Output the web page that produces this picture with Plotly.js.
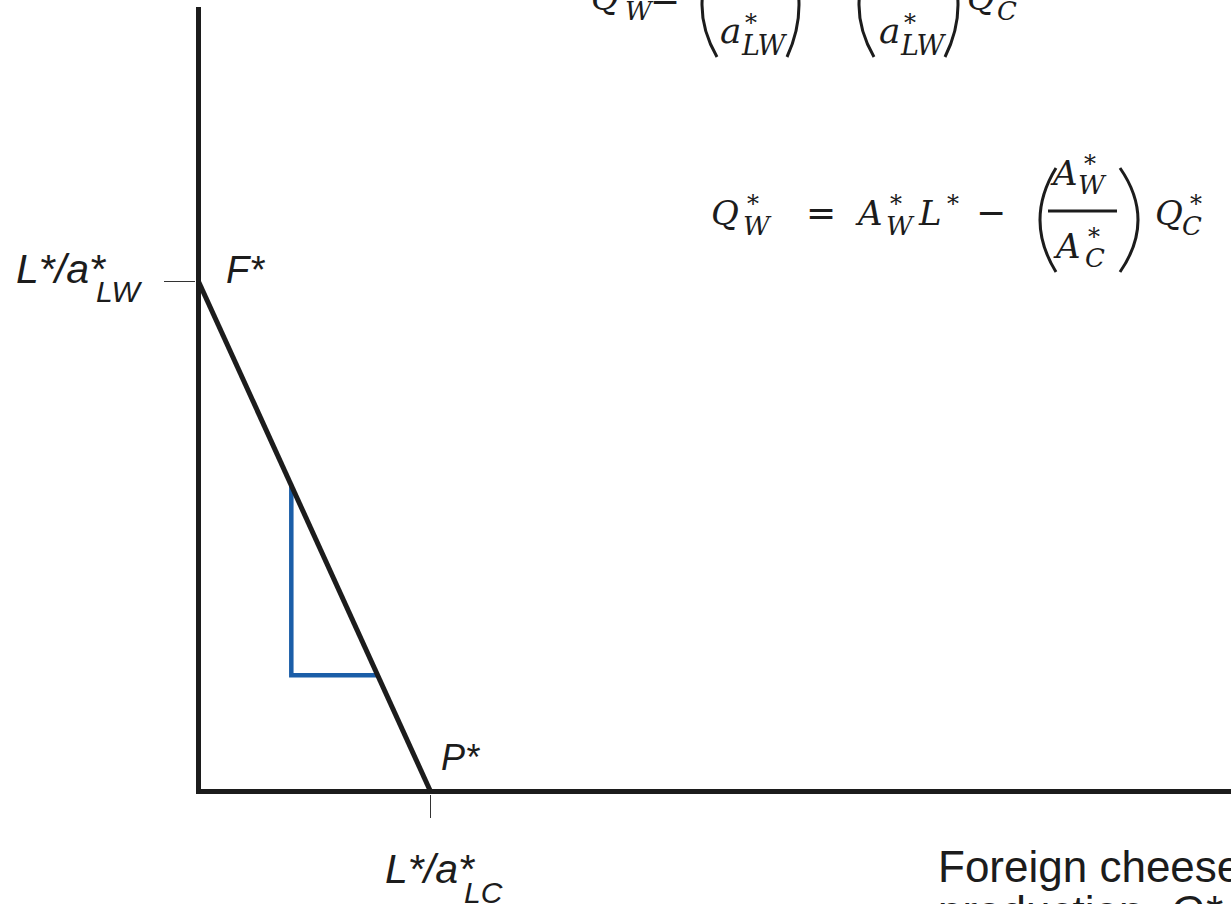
<!DOCTYPE html>
<html><head><meta charset="utf-8">
<script src="https://cdn.plot.ly/plotly-3.0.1.min.js"></script>
<style>html,body{margin:0;padding:0;background:#fff;overflow:hidden}#chart{width:1231px;height:904px}</style>
</head><body><div id="chart"></div>
<script>
// ---- data ----
const cheeseMax = 2;            // L*/a*_LC  (foreign cheese intercept)
const wineMax = 5;              // L*/a*_LW  (foreign wine intercept)
const ppfCheese = [0, cheeseMax];
const ppfWine = [wineMax, 0];
const slopeCheese = [0.8, 0.8, 1.544];
const slopeWine = [3.0, 1.14, 1.14];
const xTickLabel = ['L*/a*', 'LC'];
const yTickLabel = ['L*/a*', 'LW'];
const pointLabels = ['F*', 'P*'];
const xTitle = ['Foreign cheese', 'production,'];

// ---- layout helpers ----
const W = 1231, H = 904;
const M = {l: 196, r: 0, t: 7, b: 110};
const XR = [-0.0216, 8.9], YR = [-0.0245, 7.69];
const pw = W - M.l - M.r, ph = H - M.t - M.b;
const PX = px => (px - M.l) / pw;
const PY = py => (H - M.b - py) / ph;
const dataX = v => M.l + (v - XR[0]) / (XR[1] - XR[0]) * pw;   // data -> pixel
const dataY = v => H - M.b - (v - YR[0]) / (YR[1] - YR[0]) * ph;
const INK = '#1c1c1c';
const SERIF = 'DejaVu Serif', SANS = 'Liberation Sans', DJS = 'DejaVu Sans';
const DESC = {'DejaVu Serif': 0.236, 'Liberation Sans': 0.212, 'DejaVu Sans': 0.236};

// text placed by left x and baseline y (pixels)
function T(x, bl, text, size, fam, it) {
  fam = fam || SERIF;
  return {
    xref: 'paper', yref: 'paper', x: PX(x), y: PY(bl),
    yshift: -DESC[fam] * size,
    xanchor: 'left', yanchor: 'bottom', showarrow: false,
    borderpad: 0, borderwidth: 0,
    text: it ? '<i>' + text + '</i>' : text,
    font: {family: fam, size: size, color: INK}
  };
}

const anns = [];
const shapes = [];
function bar(x0, x1, y) {
  shapes.push({type: 'line', xref: 'paper', yref: 'paper', x0: PX(x0), x1: PX(x1), y0: PY(y), y1: PY(y),
    line: {color: INK, width: 3}});
}
function paren(xEnd, xMid, yTop, yBot) {
  const ctrl = 2 * xMid - xEnd;
  const yc = (yTop + yBot) / 2;
  shapes.push({type: 'path', xref: 'paper', yref: 'paper',
    path: `M ${PX(xEnd)},${PY(yTop)} Q ${PX(ctrl)},${PY(yc)} ${PX(xEnd)},${PY(yBot)}`,
    line: {color: INK, width: 3}});
}
const MS = 34, SUP = 24, SUB = 26;

// ---- equation 2: Q*_W = A*_W L* − (A*_W / A*_C) Q*_C ----
anns.push(T(711, 225, 'Q', MS, SERIF, true), T(747, 212, '*', SUP), T(743, 235, 'W', SUB, SERIF, true));
anns.push(T(806, 225, '=', 36, DJS));
anns.push(T(855, 225, 'A', MS, SERIF, true), T(890, 212, '*', SUP), T(886, 235, 'W', SUB, SERIF, true));
anns.push(T(918, 225, 'L', MS, SERIF, true), T(947, 212, '*', SUP));
anns.push(T(976, 225, '−', 36, DJS));
paren(1056, 1040, 168, 272);
anns.push(T(1050, 185, 'A', MS, SERIF, true), T(1084, 172, '*', SUP), T(1078, 194, 'W', SUB, SERIF, true));
bar(1048, 1117, 211);
anns.push(T(1053, 258, 'A', MS, SERIF, true), T(1088, 245, '*', SUP), T(1085, 267, 'C', SUB, SERIF, true));
paren(1120, 1138, 168, 272);
anns.push(T(1155, 225, 'Q', MS, SERIF, true), T(1190, 212, '*', SUP), T(1182, 235, 'C', SUB, SERIF, true));

// ---- equation 1 (cut at top): Q*_W = (L*/a*_LW) − (a*_LC/a*_LW) Q*_C ----
anns.push(T(591, 10, 'Q', MS, SERIF, true), T(628, -3, '*', SUP), T(625, 20, 'W', SUB, SERIF, true));
anns.push(T(650, 10, '=', 36, DJS));
paren(717, 702, -47, 57);
anns.push(T(736, -30, 'L', MS, SERIF, true), T(762, -43, '*', SUP));
bar(720, 786, -4);
anns.push(T(720, 43, 'a', 36, SERIF, true), T(745, 31, '*', SUP), T(741, 55, 'LW', 27, SERIF, true));
paren(787, 799, -47, 57);
anns.push(T(811, 10, '−', 36, DJS));
paren(874, 859, -47, 57);
anns.push(T(882, -30, 'a', 36, SERIF, true), T(906, -42, '*', SUP), T(902, -18, 'LC', 27, SERIF, true));
bar(877, 943, -4);
anns.push(T(879, 43, 'a', 36, SERIF, true), T(904, 31, '*', SUP), T(900, 55, 'LW', 27, SERIF, true));
paren(945, 958, -47, 57);
anns.push(T(967, 10, 'Q', MS, SERIF, true), T(1002, -3, '*', SUP), T(997, 20, 'C', SUB, SERIF, true));

// ---- axis labels, positioned from the data scale ----
const x0 = dataX(0), xP = dataX(cheeseMax), yF = dataY(wineMax), yP = dataY(0);
anns.push(T(x0 - 183, yF + 1.5, yTickLabel[0], 41, SANS, true));
anns.push(T(x0 - 103, yF + 20.5, yTickLabel[1], 30, SANS, true));
anns.push(T(x0 + 27, yF + 1.5, pointLabels[0], 38, SANS, true));
anns.push(T(xP + 10, yP - 21.5, pointLabels[1], 36, SANS, true));
anns.push(T(xP - 45.5, 883, xTickLabel[0], 41, SANS, true));
anns.push(T(xP + 33, 903, xTickLabel[1], 30, SANS, true));
anns.push(T(938, 882, xTitle[0], 44, SANS));
anns.push(T(938, 927, xTitle[1], 44, SANS));
anns.push(T(1170, 927, 'Q*', 44, SANS, true));
anns.push(T(1209, 943, 'C', 32, SANS, true));

const traces = [
  {type: 'scatter', mode: 'lines', x: slopeCheese, y: slopeWine,
   line: {color: '#1b5ea8', width: 4.5}, hoverinfo: 'skip', showlegend: false},
  {type: 'scatter', mode: 'lines', x: ppfCheese, y: ppfWine,
   line: {color: INK, width: 5}, hoverinfo: 'skip', showlegend: false}
];

const layout = {
  width: W, height: H, margin: M,
  paper_bgcolor: '#fff', plot_bgcolor: 'rgba(0,0,0,0)',
  showlegend: false,
  xaxis: {range: XR, showgrid: false, showline: false,
          zeroline: true, zerolinecolor: INK, zerolinewidth: 5,
          ticks: 'outside', ticklen: 23, tickwidth: 1.6, tickcolor: '#333',
          tickmode: 'array', tickvals: [cheeseMax], showticklabels: false, fixedrange: true},
  yaxis: {range: YR, showgrid: false, showline: false,
          zeroline: true, zerolinecolor: INK, zerolinewidth: 5,
          ticks: 'outside', ticklen: 31, tickwidth: 1.6, tickcolor: '#333',
          tickmode: 'array', tickvals: [wineMax], showticklabels: false, fixedrange: true},
  annotations: anns,
  shapes: shapes
};
Plotly.newPlot('chart', traces, layout, {displayModeBar: false, staticPlot: true});
</script></body></html>
